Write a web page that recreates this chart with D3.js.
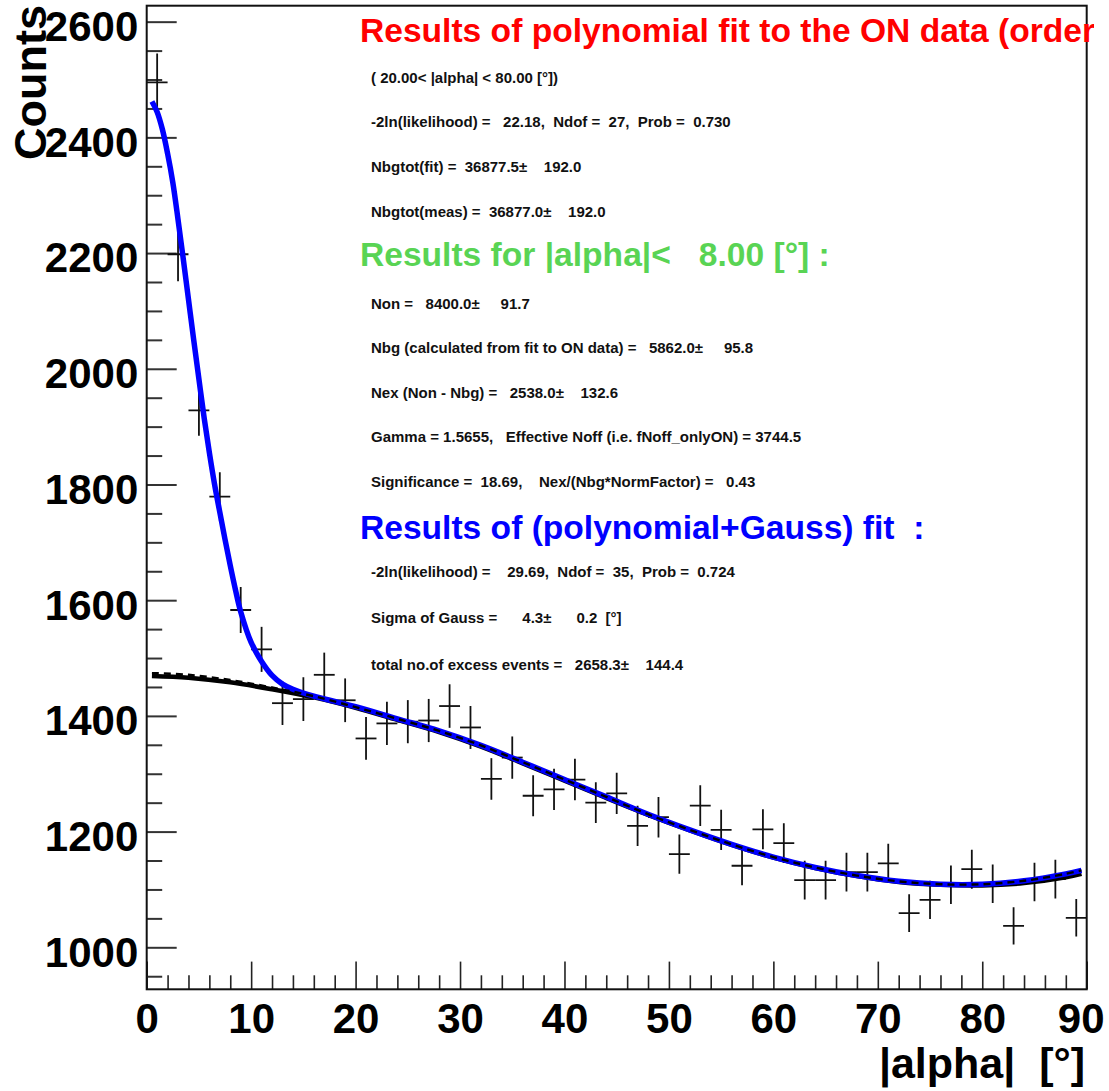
<!DOCTYPE html>
<html>
<head>
<meta charset="utf-8">
<script src="https://cdn.jsdelivr.net/npm/d3@7"></script>
<style>
  html, body { margin: 0; padding: 0; background: #ffffff; }
  svg { display: block; }
  text { font-family: "Liberation Sans", Arial, Helvetica, sans-serif; font-weight: bold; white-space: pre; }
</style>
</head>
<body>
<svg id="chart" width="1109" height="1091"></svg>
<script>
// |alpha| histogram, 2-degree bins
const binCenters = [1, 3, 5, 7, 9, 11, 13, 15, 17, 19, 21, 23, 25, 27, 29, 31, 33, 35, 37, 39,
                    41, 43, 45, 47, 49, 51, 53, 55, 57, 59, 61, 63, 65, 67, 69, 71, 73, 75, 77, 79,
                    81, 83, 85, 87, 89];
const counts = [2495, 2198, 1928, 1779, 1583, 1515, 1422, 1429, 1471, 1427,
                1361, 1387, 1390, 1392, 1417, 1380, 1291, 1328, 1262, 1273,
                1290, 1250, 1266, 1210, 1225, 1161, 1245, 1203, 1141, 1204,
                1180, 1116, 1116, 1130, 1130, 1145, 1059, 1082, 1108, 1135,
                1110, 1037, 1113, 1118, 1051];

// polynomial fit to the ON data (black solid)
const polyFitX = [0.5, 4, 8, 12, 16, 20, 24, 28, 32, 36, 40, 44, 48, 52, 56, 60, 64, 68, 72, 76, 80, 84, 88, 89.5];
const polyFitY = [1469, 1466, 1458, 1446, 1432, 1414, 1393, 1372, 1347, 1318, 1288, 1258,
                  1229, 1202, 1177, 1155, 1137, 1123, 1113, 1108, 1107, 1111, 1121, 1127];

// polynomial part of the (polynomial+Gauss) fit (black dashed)
const bgPartX = [0.5, 4, 8, 12, 16, 20, 24, 28, 32, 36, 40, 44, 48, 52, 56, 60, 64, 68, 72, 76, 80, 84, 88, 89.5];
const bgPartY = [1474, 1471, 1462, 1449, 1434, 1415, 1395, 1374, 1349, 1320, 1290, 1260,
                 1230, 1203, 1178, 1156, 1138, 1124, 1114, 1109, 1109, 1115, 1127, 1133];

// full (polynomial+Gauss) fit (blue)
const totalFitX = [0.5, 1, 1.5, 2, 2.5, 3, 3.5, 4, 4.5, 5, 5.5, 6, 6.5, 7, 7.5, 8, 8.5, 9,
                   10, 11, 12, 13, 14, 16, 18, 20, 24, 28, 32, 36, 40, 44, 48, 52, 56, 60,
                   64, 68, 72, 76, 80, 84, 88, 89.5];
const totalFitY = [2462, 2444, 2414, 2372, 2322, 2258, 2190, 2120, 2050, 1982, 1915, 1855,
                   1800, 1752, 1705, 1660, 1618, 1580, 1527, 1494, 1470, 1455, 1446, 1434,
                   1425, 1416, 1395, 1374, 1349, 1320, 1290, 1260, 1230, 1203, 1178, 1156,
                   1138, 1124, 1114, 1109, 1109, 1115, 1127, 1133];

const xTickLabels = ["0", "10", "20", "30", "40", "50", "60", "70", "80", "90"];
const yTickLabels = ["1000", "1200", "1400", "1600", "1800", "2000", "2200", "2400", "2600"];

const xTitle = "|alpha|  [\u00B0]";
const yTitle = "Counts";

const redTitle = "Results of polynomial fit to the ON data (order";
const onFitLines = [
  "( 20.00< |alpha| < 80.00 [\u00B0])",
  "-2ln(likelihood) =   22.18,  Ndof =  27,  Prob =  0.730",
  "Nbgtot(fit) =  36877.5\u00B1    192.0",
  "Nbgtot(meas) =  36877.0\u00B1    192.0"
];
const greenTitle = "Results for |alpha|<   8.00 [\u00B0] :";
const signalLines = [
  "Non =   8400.0\u00B1     91.7",
  "Nbg (calculated from fit to ON data) =   5862.0\u00B1     95.8",
  "Nex (Non - Nbg) =   2538.0\u00B1    132.6",
  "Gamma = 1.5655,   Effective Noff (i.e. fNoff_onlyON) = 3744.5",
  "Significance =  18.69,    Nex/(Nbg*NormFactor) =   0.43"
];
const blueTitle = "Results of (polynomial+Gauss) fit  :";
const gaussLines = [
  "-2ln(likelihood) =    29.69,  Ndof =  35,  Prob =  0.724",
  "Sigma of Gauss =      4.3\u00B1      0.2  [\u00B0]",
  "total no.of excess events =   2658.3\u00B1    144.4"
];

const svg = d3.select("#chart");
const frame = { left: 146.7, right: 1086.7, top: 5.7, bottom: 989.3 };

const x = d3.scaleLinear().domain([0, 90]).range([frame.left, frame.right]);
const y = d3.scaleLinear().domain([927.4, 2627.6]).range([frame.bottom, frame.top]);

const defs = svg.append("defs");
defs.append("clipPath").attr("id", "plotClip").append("rect")
  .attr("x", frame.left).attr("y", frame.top)
  .attr("width", frame.right - frame.left).attr("height", frame.bottom - frame.top);
defs.append("clipPath").attr("id", "titleClip").append("rect")
  .attr("x", 0).attr("y", 0).attr("width", 1094).attr("height", 1091);

// x axis: major ticks every 10, minor every 2, drawn inward
const xMinor = d3.range(0, 91, 2).filter(v => v % 10 !== 0);
svg.append("g")
  .attr("transform", `translate(0,${frame.bottom})`)
  .call(d3.axisBottom(x).tickValues(xMinor).tickSize(-14).tickFormat(""))
  .call(g => g.select(".domain").remove())
  .call(g => g.selectAll("line").attr("stroke", "#222").attr("stroke-width", 1.6));

const xAxis = svg.append("g")
  .attr("transform", `translate(0,${frame.bottom})`)
  .call(d3.axisBottom(x).tickValues(xTickLabels.map(Number)).tickSize(-27.7).tickPadding(14.2)
        .tickFormat((d, i) => xTickLabels[i]))
  .call(g => g.select(".domain").remove())
  .call(g => g.selectAll("line").attr("stroke", "#222").attr("stroke-width", 1.6));
xAxis.selectAll("text")
  .attr("fill", "#000").style("font-size", "42px").attr("font-family", null);
// keep the last label inside the canvas
xAxis.selectAll("text").filter(d => d === 90)
  .attr("text-anchor", "end").attr("x", 1104 - frame.right);

// y axis: major ticks every 200, minor every 50
const yMinor = d3.range(950, 2601, 50).filter(v => v % 200 !== 0);
svg.append("g")
  .attr("transform", `translate(${frame.left},0)`)
  .call(d3.axisLeft(y).tickValues(yMinor).tickSize(-15.5).tickFormat(""))
  .call(g => g.select(".domain").remove())
  .call(g => g.selectAll("line").attr("stroke", "#333").attr("stroke-width", 2));

const yAxis = svg.append("g")
  .attr("transform", `translate(${frame.left},0)`)
  .call(d3.axisLeft(y).tickValues(yTickLabels.map(Number)).tickSize(-30).tickPadding(8.4)
        .tickFormat((d, i) => yTickLabels[i]))
  .call(g => g.select(".domain").remove())
  .call(g => g.selectAll("line").attr("stroke", "#333").attr("stroke-width", 2));
yAxis.selectAll("text")
  .attr("fill", "#000").attr("dy", "0.45em").style("font-size", "42px").attr("font-family", null);

// axis titles
svg.append("text")
  .attr("x", 1085).attr("y", 1078)
  .attr("text-anchor", "end")
  .style("font-size", "43px")
  .attr("fill", "#000")
  .text(xTitle);

svg.append("text")
  .attr("transform", "translate(46,5) rotate(-90)")
  .attr("text-anchor", "end")
  .style("font-size", "45px")
  .attr("fill", "#000")
  .text(yTitle);

// data points with error bars
const plot = svg.append("g").attr("clip-path", "url(#plotClip)");
const pts = plot.append("g").attr("stroke", "#111").attr("stroke-width", 1.8);
binCenters.forEach((c, i) => {
  const n = counts[i];
  const e = Math.sqrt(n);
  pts.append("line")
    .attr("x1", x(c - 1)).attr("x2", x(c + 1))
    .attr("y1", y(n)).attr("y2", y(n));
  pts.append("line")
    .attr("x1", x(c)).attr("x2", x(c))
    .attr("y1", y(n - e)).attr("y2", y(n + e));
});

// fitted functions
const line = d3.line().x(d => x(d[0])).y(d => y(d[1])).curve(d3.curveCatmullRom.alpha(0.5));

plot.append("path")
  .datum(d3.zip(polyFitX, polyFitY))
  .attr("d", line)
  .attr("fill", "none").attr("stroke", "#000").attr("stroke-width", 4.5);

plot.append("path")
  .datum(d3.zip(totalFitX, totalFitY))
  .attr("d", line)
  .attr("fill", "none").attr("stroke", "#0000ff").attr("stroke-width", 5.5);

plot.append("path")
  .datum(d3.zip(bgPartX, bgPartY))
  .attr("d", line)
  .attr("fill", "none").attr("stroke", "#000").attr("stroke-width", 2.4)
  .attr("stroke-dasharray", "7,5");

// frame
svg.append("rect")
  .attr("x", frame.left).attr("y", frame.top)
  .attr("width", frame.right - frame.left).attr("height", frame.bottom - frame.top)
  .attr("fill", "none").attr("stroke", "#111").attr("stroke-width", 2);

// fit result texts
const titleSize = 33.6, smallSize = 15;
function title(str, yPos, color) {
  svg.append("text")
    .attr("x", 360).attr("y", yPos)
    .attr("fill", color)
    .attr("clip-path", "url(#titleClip)")
    .style("font-size", titleSize + "px")
    .text(str);
}
function block(lines, baselines) {
  lines.forEach((s, i) => {
    svg.append("text")
      .attr("x", 371).attr("y", baselines[i])
      .attr("fill", "#111")
      .style("font-size", smallSize + "px")
      .text(s);
  });
}

title(redTitle, 41.7, "#ff0000");
block(onFitLines, [82.5, 126.8, 172.2, 216.6]);
title(greenTitle, 266, "#59d454");
block(signalLines, [309.3, 353.4, 398.2, 442, 487]);
title(blueTitle, 539.3, "#0000ff");
block(gaussLines, [576.5, 623, 670]);
</script>
</body>
</html>
